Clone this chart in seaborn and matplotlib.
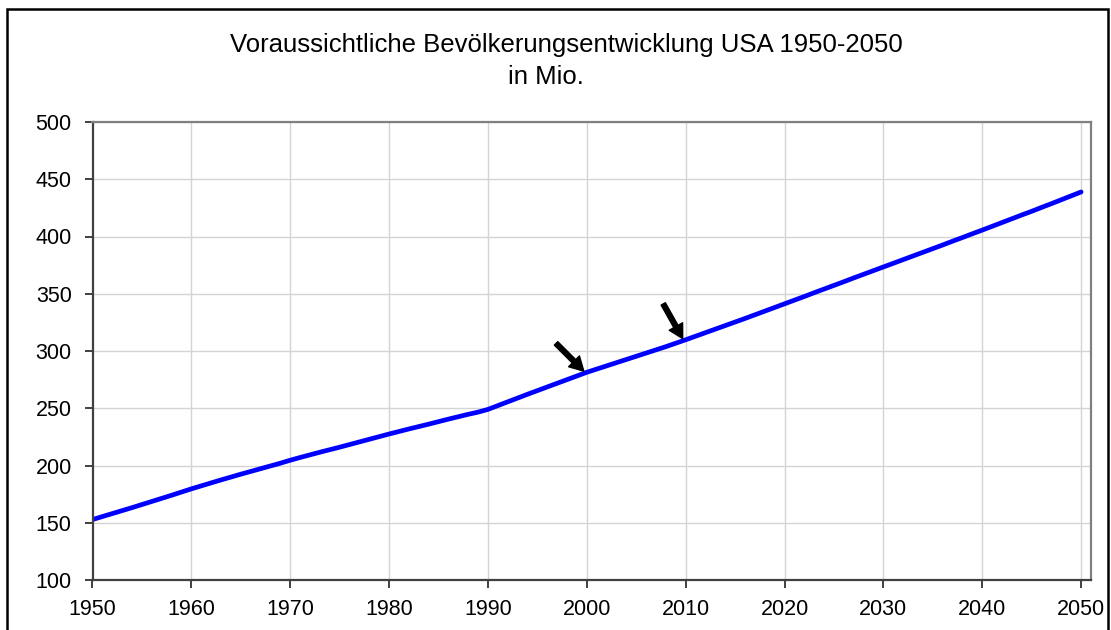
import matplotlib
matplotlib.use("Agg")
import matplotlib.pyplot as plt
import seaborn as sns
import pandas as pd
from matplotlib.patches import Rectangle

years = list(range(1950, 2051))
population = [
    152.8, 155.4, 158.0, 160.6, 163.2, 165.9, 168.6, 171.3, 174.0, 176.8,
    179.6, 182.2, 184.8, 187.4, 189.9, 192.4, 194.8, 197.2, 199.6, 202.0,
    204.6, 207.0, 209.3, 211.6, 213.8, 216.0, 218.3, 220.6, 222.9, 225.2,
    227.5, 229.7, 231.9, 234.0, 236.1, 238.3, 240.5, 242.6, 244.7, 246.6,
    249.0, 252.3, 255.6, 258.9, 262.2, 265.4, 268.6, 271.8, 275.0, 278.2,
    281.4, 284.2, 287.0, 289.8, 292.6, 295.4, 298.2, 301.0, 303.8, 306.8,
    309.8, 312.9, 316.0, 319.1, 322.2, 325.3, 328.4, 331.6, 334.8, 338.0,
    341.2, 344.4, 347.6, 350.9, 354.1, 357.3, 360.5, 363.8, 367.0, 370.2,
    373.4, 376.6, 379.8, 383.0, 386.2, 389.4, 392.6, 395.9, 399.1, 402.4,
    405.6, 408.9, 412.2, 415.5, 418.8, 422.0, 425.4, 428.7, 432.1, 435.5,
    438.9,
]
x_ticks = list(range(1950, 2051, 10))
y_ticks = list(range(100, 501, 50))
marked_years = [2000, 2010]
title_line1 = "Voraussichtliche Bevölkerungsentwicklung USA 1950-2050"
title_line2 = "in Mio."

df = pd.DataFrame({"Jahr": years, "Bevölkerung": population})

sns.set_style("white")
plt.rcParams["font.family"] = ["Liberation Sans", "DejaVu Sans"]
plt.rcParams["text.color"] = "black"

fig = plt.figure(figsize=(11.11, 6.30), dpi=100)
ax = fig.add_axes([92.5 / 1111, 1 - 580 / 630, (1091 - 92.5) / 1111, (580 - 122) / 630])

sns.lineplot(data=df, x="Jahr", y="Bevölkerung", ax=ax, color="#0000FF", linewidth=3.4)

ax.set_xlim(1950, 2051)
ax.set_ylim(100, 500)
ax.set_xticks(x_ticks)
ax.set_yticks(y_ticks)
ax.set_xlabel("")
ax.set_ylabel("")
ax.grid(True, color="#d4d4d4", linewidth=1.0)
ax.set_axisbelow(True)

for side in ["left", "bottom"]:
    ax.spines[side].set_color("#404040")
    ax.spines[side].set_linewidth(1.6)
for side in ["top", "right"]:
    ax.spines[side].set_color("#808080")
    ax.spines[side].set_linewidth(1.6)

ax.tick_params(axis="both", direction="out", length=6, width=1.4, color="#404040",
               labelsize=15.5, labelcolor="black", bottom=True, left=True)
ax.tick_params(axis="x", pad=8)
ax.tick_params(axis="y", pad=9)

offsets = {2000: (-20, 20), 2010: (-14, 25)}
for yr in marked_years:
    val = population[years.index(yr)]
    ax.annotate("", xy=(yr - 0.3, val + 1.0), xycoords="data",
                xytext=offsets[yr], textcoords="offset points",
                arrowprops=dict(facecolor="black", edgecolor="black",
                                width=3.5, headwidth=11, headlength=10, shrink=0))

fig.text(566 / 1111, 1 - 45 / 630, title_line1, ha="center", va="center",
         fontsize=18.5, color="black")
fig.text(546 / 1111, 1 - 77 / 630, title_line2, ha="center", va="center",
         fontsize=18.5, color="black")

fig.patches.append(Rectangle((7 / 1111, -0.05), (1108 - 7) / 1111, 1 - 9 / 630 + 0.05,
                             transform=fig.transFigure, fill=False,
                             edgecolor="black", linewidth=1.8))

fig.savefig("out.png", dpi=100)
